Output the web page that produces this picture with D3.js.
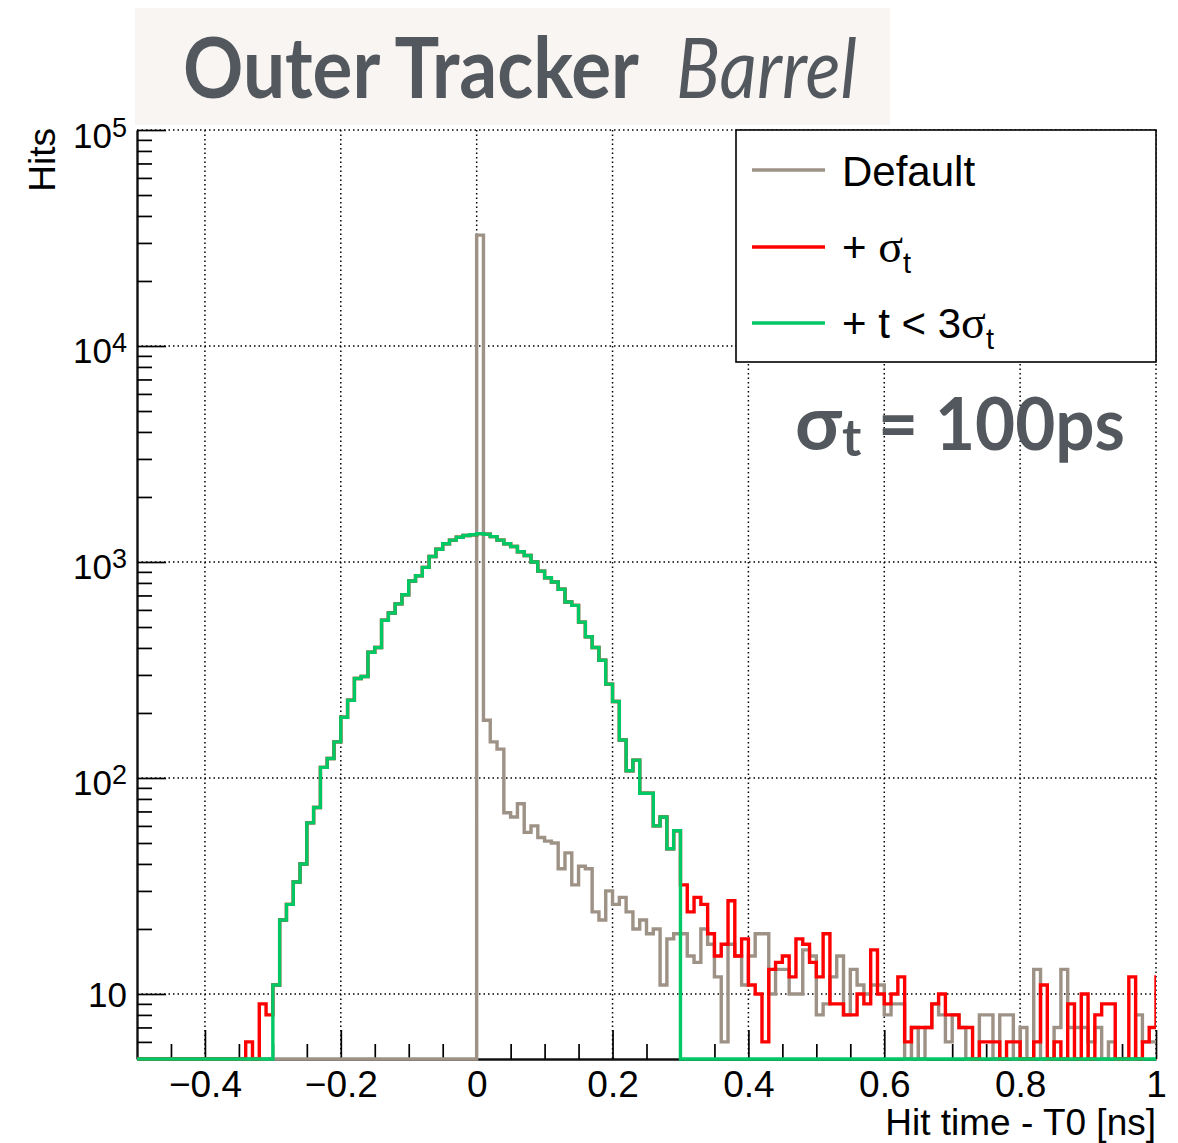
<!DOCTYPE html>
<html><head><meta charset="utf-8">
<script src="https://cdn.jsdelivr.net/npm/d3@7"></script>
<style>body{margin:0;background:#fff} svg{display:block}</style>
</head><body><svg id="c" width="1178" height="1143"></svg>
<script>
// ---------------- DATA ----------------
// Histogram bins of width 0.01 ns, first bin starts at -0.50 ns (last listed bin, 1.00, lies past the frame edge)
const binStart = -0.5;
const binWidth = 0.01;

// "Default"
const defaultHits = [
  0,0,0,0,0,0,0,0,0,0,  0,0,0,0,0,0,0,0,0,0,   // -0.50 .. -0.31
  0,0,0,0,0,0,0,0,0,0,  0,0,0,0,0,0,0,0,0,0,   // -0.30 .. -0.11
  0,0,0,0,0,0,0,0,0,0,                         // -0.10 .. -0.01
  32600,185,147,136,69,66,76,56,60,53,         // 0.00 ..
  51,50,38,45,32,39,38,24,22,30,
  26,28,24,20,22,19,20,11,18,19,
  19,15,14,20,17,12,6,17,15,11,
  15,19,19,10,13,13,10,10,16,15,
  8,9,12,15,8,13,11,10,11,11,
  8,9,9,0,7,0,7,9,8,6,
  8,7,0,0,8,8,0,8,8,0,
  7,0,13,0,0,7,13,7,7,7,
  6,7,0,6,0,0,0,8,6,6,
  6
];

// "+ σt"
const sigmaHits = [
  0,0,0,0,0,0,0,0,0,0,  0,0,0,0,0,0,6,0,9,8,   // -0.50 .. -0.31
  11,22,26,33,40,62,73,112,123,147,            // -0.30 ..
  191,229,289,295,382,402,537,581,640,705,
  817,863,944,1060,1145,1214,1262,1301,1327,1337,
  1353,1345,1310,1262,1214,1180,1115,1072,1000,907,
  846,808,748,653,630,527,451,402,351,272,
  226,150,108,121,85,85,60,66,47,57,           // .. 0.29
  32,24,28,26,19,15,17,27,15,18,               // 0.30 ..
  11,10,6,13,14,15,12,18,17,14,
  12,19,9,9,8,8,10,9,16,10,
  9,10,12,6,7,7,7,9,10,8,
  8,7,7,0,6,6,6,0,6,6,
  0,0,6,11,0,6,0,9,0,10,
  0,8,9,9,0,0,12,0,6,7,
  12
];

// "+ t < 3σt"
const cutHits = [
  0,0,0,0,0,0,0,0,0,0,  0,0,0,0,0,0,0,0,0,0,   // -0.50 .. -0.31
  11,22,26,33,40,62,73,112,123,147,            // -0.30 ..
  191,229,289,295,382,402,537,581,640,705,
  817,863,944,1060,1145,1214,1262,1301,1327,1337,
  1353,1345,1310,1262,1214,1180,1115,1072,1000,907,
  846,808,748,653,630,527,451,402,351,272,
  226,150,108,121,85,85,60,66,47,57,           // .. 0.29
  0,0,0,0,0,0,0,0,0,0,  0,0,0,0,0,0,0,0,0,0,   // 0.30 ..
  0,0,0,0,0,0,0,0,0,0,  0,0,0,0,0,0,0,0,0,0,
  0,0,0,0,0,0,0,0,0,0,  0,0,0,0,0,0,0,0,0,0,
  0,0,0,0,0,0,0,0,0,0,
  0
];

const seriesNames = ["Default", "+ σt", "+ t < 3σt"];
const xMajorTicks = [-0.4, -0.2, 0, 0.2, 0.4, 0.6, 0.8, 1];
const xMinorTicks = [-0.45,-0.35,-0.3,-0.25,-0.15,-0.1,-0.05,0.05,0.1,0.15,0.25,0.3,0.35,
                     0.45,0.5,0.55,0.65,0.7,0.75,0.85,0.9,0.95];
const yMajorTicks = [10, 100, 1000, 10000, 100000];
const yMinorTicks = [6,7,8,9, 20,30,40,50,60,70,80,90, 200,300,400,500,600,700,800,900,
                     2000,3000,4000,5000,6000,7000,8000,9000, 20000,30000,40000,50000,60000,70000,80000,90000];
const xDomain = [-0.5, 1];
const yDomain = [5, 1e5];

// ---------------- LAYOUT ----------------
const L = 137, R = 1156, T = 130, B = 1059;
const colors = { def: "#9e9286", sig: "#ff0000", cut: "#00c864" };
const svg = d3.select("#c");
const x = d3.scaleLinear().domain(xDomain).range([L, R]);
const y = d3.scaleLog().domain(yDomain).range([B, T]);
const SANS = "'Liberation Sans', Arial, Helvetica, sans-serif";
const GR = "#53585e";

// title banner
svg.append("rect").attr("x", 135).attr("y", 8).attr("width", 755).attr("height", 117).attr("fill", "#f8f5f2");
const title = svg.append("text").attr("y", 98).attr("font-family", "Lato, 'DejaVu Sans'")
  .attr("font-size", 84).attr("fill", GR);
title.append("tspan").attr("x", 183).attr("font-weight", "bold")
  .attr("textLength", 456).attr("lengthAdjust", "spacingAndGlyphs").text("Outer Tracker");
title.append("tspan").attr("x", 676).attr("font-style", "italic")
  .attr("textLength", 181).attr("lengthAdjust", "spacingAndGlyphs").text("Barrel");

// grid
const grid = svg.append("g").attr("stroke", "#000").attr("stroke-width", 1.5).attr("stroke-dasharray", "1.5,3");
grid.selectAll("line.v").data(xMajorTicks).join("line").attr("class", "v")
  .attr("x1", d => x(d)).attr("x2", d => x(d)).attr("y1", T).attr("y2", B);
grid.selectAll("line.h").data(yMajorTicks).join("line").attr("class", "h")
  .attr("x1", L).attr("x2", R).attr("y1", d => y(d)).attr("y2", d => y(d));

// axes
const fmtX = d => d === 0 ? "0" : d === 1 ? "1" : (d < 0 ? "\u2212" : "") + Math.abs(d).toFixed(1);
const gx = svg.append("g").attr("transform", `translate(0,${B})`)
  .call(d3.axisBottom(x).tickValues(xMajorTicks).tickSize(-29).tickSizeOuter(0).tickPadding(12).tickFormat(fmtX));
const gxm = svg.append("g").attr("transform", `translate(0,${B})`)
  .call(d3.axisBottom(x).tickValues(xMinorTicks).tickSize(-15).tickFormat(""));
gxm.select(".domain").remove();
const gy = svg.append("g").attr("transform", `translate(${L},0)`)
  .call(d3.axisLeft(y).tickValues(yMajorTicks).tickSize(-29).tickSizeOuter(0).tickPadding(10).tickFormat(""));
const gym = svg.append("g").attr("transform", `translate(${L},0)`)
  .call(d3.axisLeft(y).tickValues(yMinorTicks).tickSize(-15).tickFormat(""));
gym.select(".domain").remove();
[gx, gxm, gy, gym].forEach(g => {
  g.selectAll("line").attr("stroke", "#000").attr("stroke-width", 1.7);
  g.select(".domain").attr("stroke", "#111").attr("stroke-width", 2.4);
});
gx.selectAll("text").attr("font-family", SANS).attr("font-size", 37).attr("fill", "#000");
gy.selectAll(".tick text").each(function(d) {
  const t = d3.select(this);
  t.attr("font-family", SANS).attr("font-size", 35).attr("fill", "#000").attr("dy", d === 10 ? 13 : 17);
  t.append("tspan").text("10");
  if (d !== 10) t.append("tspan").attr("font-size", 27).attr("dy", -11).text(String(Math.round(Math.log10(d))));
});

// axis titles
svg.append("text").attr("x", R).attr("y", 1135).attr("text-anchor", "end")
  .attr("font-family", SANS).attr("font-size", 37).text("Hit time - T0 [ns]");
svg.append("text").attr("transform", "translate(55,128) rotate(-90)").attr("text-anchor", "end")
  .attr("font-family", SANS).attr("font-size", 37).text("Hits");

// histograms
svg.append("clipPath").attr("id", "plotclip").append("rect")
  .attr("x", L).attr("y", T).attr("width", R - L).attr("height", B - T + 3);
const line = d3.line().x(d => x(d[0])).y(d => y(d[1])).curve(d3.curveStepAfter);
function histPoints(vals) {
  const pts = vals.map((v, i) => [binStart + i * binWidth, Math.max(v, yDomain[0])]);
  pts.push([binStart + vals.length * binWidth, Math.max(vals[vals.length - 1], yDomain[0])]);
  return pts;
}
const hg = svg.append("g").attr("clip-path", "url(#plotclip)");
[[defaultHits, colors.def], [sigmaHits, colors.sig], [cutHits, colors.cut]].forEach(([vals, c]) => {
  hg.append("path").attr("d", line(histPoints(vals))).attr("fill", "none")
    .attr("stroke", c).attr("stroke-width", 3.4).attr("stroke-linejoin", "miter");
});

// legend
const lg = svg.append("g");
lg.append("rect").attr("x", 736).attr("y", 130).attr("width", 420).attr("height", 232)
  .attr("fill", "#fff").attr("stroke", "#000").attr("stroke-width", 1.6);
const legendRows = [
  { c: colors.def, y: 170 },
  { c: colors.sig, y: 247 },
  { c: colors.cut, y: 323 }
];
lg.selectAll("line.l").data(legendRows).join("line").attr("class", "l")
  .attr("x1", 752).attr("x2", 825).attr("y1", d => d.y).attr("y2", d => d.y)
  .attr("stroke", d => d.c).attr("stroke-width", 3.6);
const SERIF = "'Liberation Serif', 'DejaVu Serif', serif";
lg.append("text").attr("x", 842).attr("y", 186).attr("font-family", SANS).attr("font-size", 42).text(seriesNames[0]);
const t2 = lg.append("text").attr("x", 842).attr("y", 262).attr("font-family", SANS).attr("font-size", 42);
t2.append("tspan").text("+ ");
t2.append("tspan").attr("font-family", SERIF).attr("font-size", 46).text("σ");
t2.append("tspan").attr("font-size", 29).attr("dy", 11).text("t");
const t3 = lg.append("text").attr("x", 842).attr("y", 338).attr("font-family", SANS).attr("font-size", 42);
t3.append("tspan").text("+ t < 3");
t3.append("tspan").attr("font-family", SERIF).attr("font-size", 46).text("σ");
t3.append("tspan").attr("font-size", 29).attr("dy", 11).text("t");

// sigma annotation
const ann = svg.append("text").attr("y", 450).attr("font-family", "Lato, 'DejaVu Sans'").attr("font-weight", "bold")
  .attr("fill", GR);
ann.append("tspan").attr("x", 795).attr("font-size", 76).text("σ");
ann.append("tspan").attr("x", 842).attr("dy", 6).attr("font-size", 52).text("t");
ann.append("tspan").attr("x", 878).attr("dy", -6).attr("font-size", 72)
  .attr("textLength", 247).attr("lengthAdjust", "spacingAndGlyphs").text("= 100ps");
</script></body></html>
